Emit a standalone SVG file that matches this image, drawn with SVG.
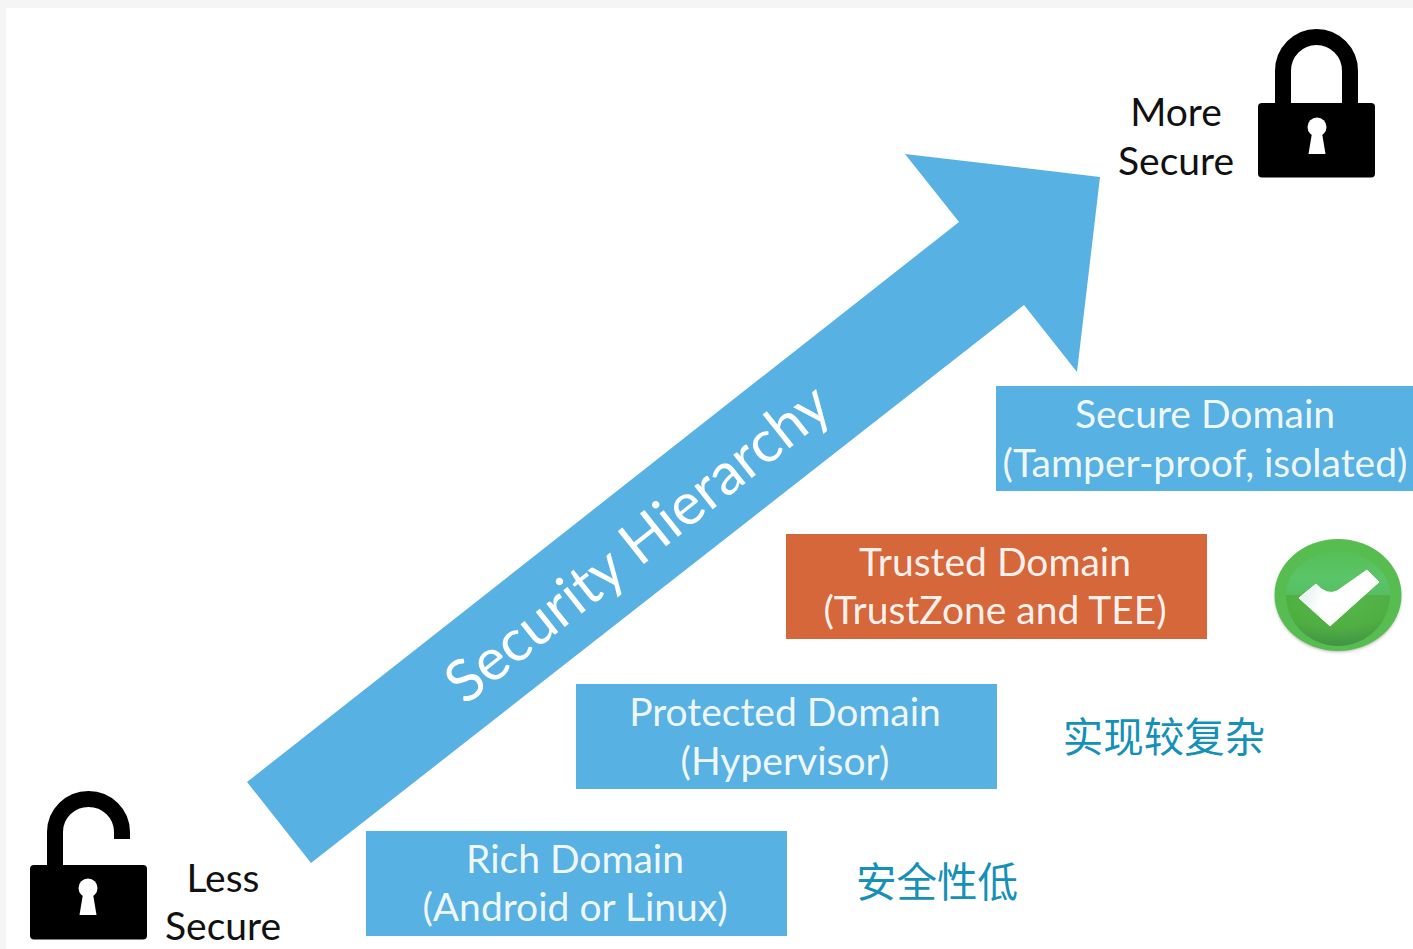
<svg xmlns="http://www.w3.org/2000/svg" width="1413" height="949" viewBox="0 0 1413 949">
<style>
.l{font-family:"Lato","Liberation Sans",sans-serif;font-size:39px;text-anchor:middle;font-weight:400}
.w{fill:#fff;fill-opacity:.93}
.k{fill:#111}
.c{font-family:"Noto Sans CJK SC",sans-serif;font-size:40.500px;fill:#1590b6;text-anchor:middle}
.b{fill:#57b1e2}
.h{font-family:"Lato","Liberation Sans",sans-serif;font-size:58.500px;fill:#fff;text-anchor:middle}
</style>
<defs>
<linearGradient id="g1" x1="0" y1="0" x2="0" y2="1"><stop offset="0" stop-color="#56bf56"/><stop offset="0.6" stop-color="#5ac569"/><stop offset="1" stop-color="#58bd62"/></linearGradient>
<radialGradient id="g3" cx="0.5" cy="0.1" r="1"><stop offset="0" stop-color="#56b84c"/><stop offset="0.55" stop-color="#4fae42"/><stop offset="1" stop-color="#3c8c46"/></radialGradient>
<linearGradient id="g2" x1="0" y1="0" x2="1" y2="0.3"><stop offset="0" stop-color="#cfe8e6"/><stop offset="0.4" stop-color="#fff"/></linearGradient>
<filter id="s" x="-20%" y="-20%" width="140%" height="140%"><feGaussianBlur stdDeviation="1.500"/></filter>
<g id="hole"><circle cx="0" cy="-3" r="9.500" fill="#fff"/><path d="M-4-3L-8.500 24H8.500L4-3Z" fill="#fff"/></g>
</defs>
<rect width="1413" height="949" fill="#fff"/>
<rect width="1413" height="8" fill="#f5f5f5"/>
<rect width="6" height="949" fill="#f5f5f5"/>
<g id="connectors">
<polygon class="b" points="247,782 311,863 1024,305 1077,372 1100,177 905,154 959,222"/>
</g>
<text class="h" transform="translate(650,559) rotate(-38.500)">Security Hierarchy</text>
<g id="lock-more">
<path d="M1283 106V71A33.500 34 0 0 1 1350 71V106" fill="none" stroke="#000" stroke-width="16"/>
<rect x="1258" y="103" width="117" height="74.500" rx="4"/>
<use href="#hole" x="1317" y="130"/>
<text class="l k" x="1176" y="126">More</text>
<text class="l k" x="1176" y="175">Secure</text>
</g>
<g id="lock-less">
<path d="M55 868V832A33.500 33 0 0 1 122 832V839" fill="none" stroke="#000" stroke-width="16"/>
<rect x="30" y="865" width="117" height="74.500" rx="4"/>
<use href="#hole" x="88" y="891"/>
<text class="l k" x="223" y="892">Less</text>
<text class="l k" x="223" y="940">Secure</text>
</g>
<g id="secure-domain">
<rect class="b" x="996" y="386" width="417" height="105"/>
<text class="l w" x="1205" y="428">Secure Domain</text>
<text class="l w" x="1205" y="477">(Tamper-proof, isolated)</text>
</g>
<g id="trusted-domain">
<rect x="786" y="534" width="421" height="105" fill="#d5673a"/>
<text class="l w" x="995" y="576">Trusted Domain</text>
<text class="l w" x="995" y="624">(TrustZone and TEE)</text>
</g>
<g id="protected-domain">
<rect class="b" x="576" y="684" width="421" height="105"/>
<text class="l w" x="785" y="726">Protected Domain</text>
<text class="l w" x="785" y="775">(Hypervisor)</text>
</g>
<g id="rich-domain">
<rect class="b" x="366" y="831" width="421" height="105"/>
<text class="l w" x="575" y="873">Rich Domain</text>
<text class="l w" x="575" y="921">(Android or Linux)</text>
</g>
<g id="check">
<ellipse cx="1338" cy="597" rx="63" ry="55" fill="#888" opacity=".6" filter="url(#s)"/>
<ellipse cx="1338" cy="595" rx="63.500" ry="56" fill="#58bd50"/>
<path d="M1286 595A52 43 0 0 1 1390 595Z" fill="url(#g1)"/>
<path d="M1286 595H1390A52 51 0 0 1 1286 595Z" fill="url(#g3)"/>
<path d="M1299 598L1316 584Q1327 596 1337 591L1367 570L1379 582L1330 626Z" fill="url(#g2)" stroke="#fff" stroke-width="1" stroke-linejoin="round"/>
</g>
<text class="c" x="1164" y="752">实现较复杂</text>
<text class="c" x="937" y="897">安全性低</text>
</svg>
